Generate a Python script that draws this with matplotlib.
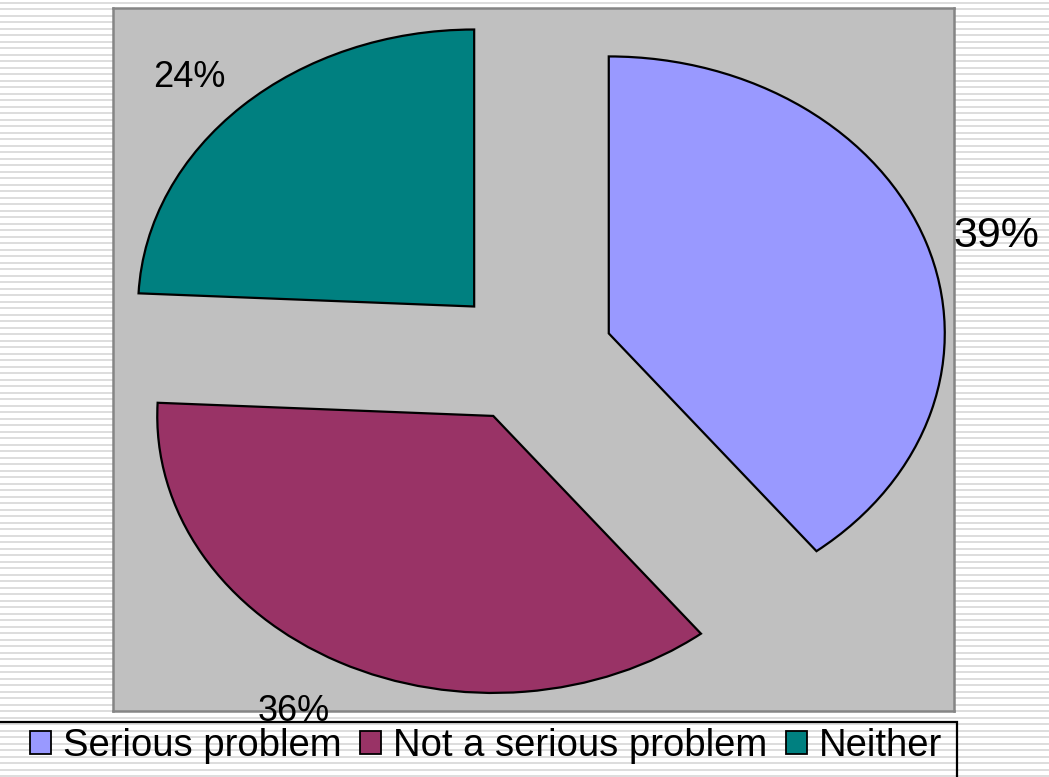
import numpy as np
import matplotlib
matplotlib.use("Agg")
import matplotlib.pyplot as plt
from matplotlib.patches import Patch, Rectangle

plt.rcParams['font.family'] = ['Liberation Sans', 'DejaVu Sans']

# survey answers (percent)
categories = ['Serious problem', 'Not a serious problem', 'Neither']
shares = [39, 36, 24]
colors = ['#9999ff', '#993366', '#008080']

W, H = 1049, 777
fig = plt.figure(figsize=(W / 100, H / 100), dpi=100)
fig.patch.set_facecolor('white')

# lined-paper background
bg = fig.add_axes([0, 0, 1, 1], zorder=0)
bg.set_xlim(0, W)
bg.set_ylim(H, 0)
bg.axis('off')
bg.hlines(np.arange(2.5, H, 6.5), 0, W, color='#dadada', linewidth=1.3)
# legend frame (runs off the bottom edge)
bg.add_patch(Rectangle((-4, 722), 961, 120, fill=False, edgecolor='black',
                       linewidth=1.6, zorder=3))

# plot area
ax = fig.add_axes([113 / W, 1 - 711 / H, (954 - 113) / W, (711 - 8) / H], zorder=1)
wedges, texts, autotexts = ax.pie(
    shares, colors=colors, explode=[0.245] * 3, startangle=90, counterclock=False,
    autopct='%.0f%%', pctdistance=1.2, frame=True,
    wedgeprops=dict(edgecolor='black', linewidth=1.6),
    textprops=dict(fontsize=26, color='black'))
ax.set_aspect('auto')
ax.set_xlim(-1.244, 1.259)
ax.set_ylim(-1.283, 1.255)
ax.set_xticks([])
ax.set_yticks([])
ax.set_facecolor('#c0c0c0')
for s in ax.spines.values():
    s.set_color('#858585')
    s.set_linewidth(1.8)

# percentage labels sit just outside each slice
label_r = [1.45, 1.465, 1.43]
label_shift = [-1.8, -1.5, 1.7]
label_size = [31, 26, 26]
for w, t, r, da, fs in zip(wedges, autotexts, label_r, label_shift, label_size):
    mid = np.deg2rad((w.theta1 + w.theta2) / 2 + da)
    t.set_position((r * np.cos(mid), r * np.sin(mid)))
    t.set_fontsize(fs)
    t.set_clip_on(False)

handles = [Patch(facecolor=c, edgecolor='black', linewidth=1.3) for c in colors]
fig.legend(handles, categories, ncol=3, loc='upper right',
           bbox_to_anchor=(942 / W, 1 - 728 / H), borderaxespad=0, borderpad=0,
           frameon=False, fontsize=27.5, handlelength=0.55, handleheight=0.55,
           handletextpad=0.3, columnspacing=0.5)

fig.savefig('out.png', dpi=100)
